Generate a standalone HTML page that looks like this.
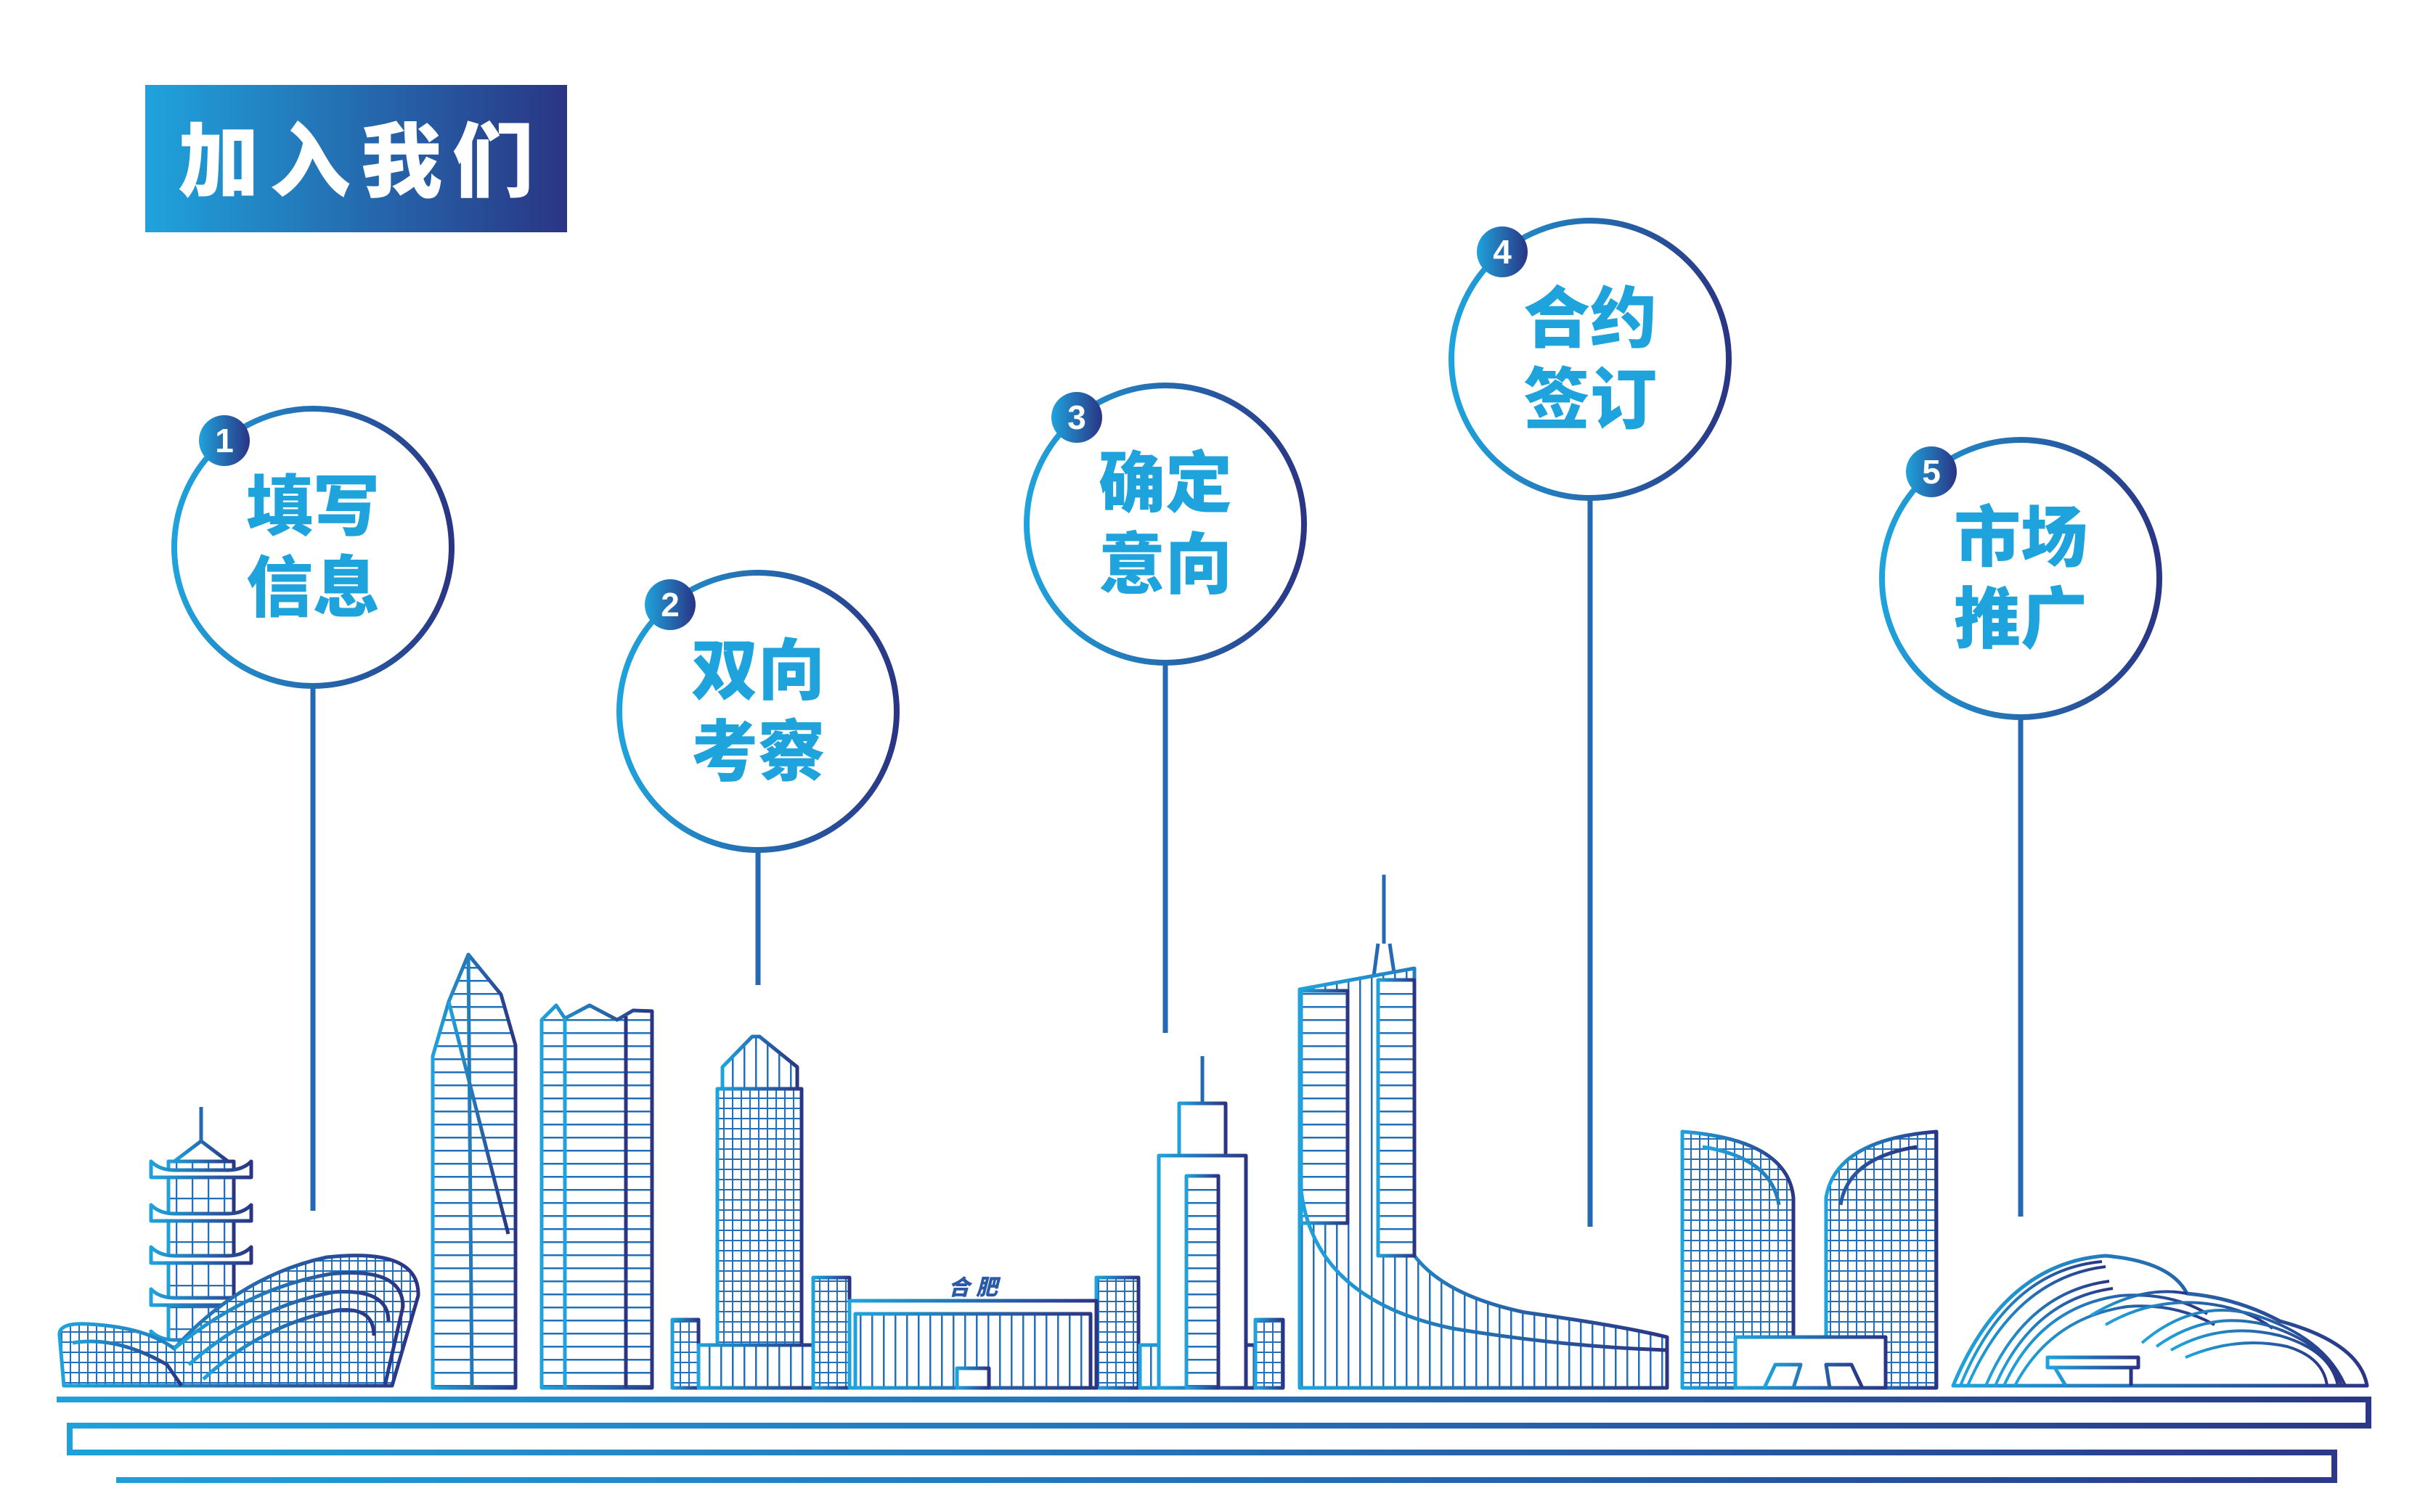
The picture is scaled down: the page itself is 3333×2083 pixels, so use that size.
<!DOCTYPE html>
<html><head><meta charset="utf-8">
<style>
html,body{margin:0;padding:0;background:#fff;}
body{width:3333px;height:2083px;overflow:hidden;position:relative;}
svg{position:absolute;left:0;top:0;}
</style></head>
<body>
<svg width="3333" height="2083" viewBox="0 0 3333 2083" xmlns="http://www.w3.org/2000/svg">
<defs>
  <linearGradient id="g" x1="0" y1="0" x2="1" y2="0">
    <stop offset="0" stop-color="#1fa3dc"/><stop offset="1" stop-color="#2a3584"/>
  </linearGradient>
  <linearGradient id="gw" gradientUnits="userSpaceOnUse" x1="0" y1="0" x2="3333" y2="0">
    <stop offset="0" stop-color="#1fa3dc"/><stop offset="0.5" stop-color="#2470b8"/><stop offset="1" stop-color="#2a3584"/>
  </linearGradient>
  <pattern id="hl" width="20" height="18" patternUnits="userSpaceOnUse">
    <rect width="20" height="18" fill="#fff"/><line x1="0" y1="1" x2="20" y2="1" stroke="#2470b8" stroke-width="3"/>
  </pattern>
  <pattern id="grid" width="12" height="14" patternUnits="userSpaceOnUse">
    <rect width="12" height="14" fill="#fff"/><path d="M0 1H12M1 0V14" stroke="#2470b8" stroke-width="2"/>
  </pattern>
  <pattern id="vl" width="16" height="20" patternUnits="userSpaceOnUse">
    <rect width="16" height="20" fill="#fff"/><line x1="1" y1="0" x2="1" y2="20" stroke="#2470b8" stroke-width="3"/>
  </pattern>
  <pattern id="vl2" width="22" height="30" patternUnits="userSpaceOnUse">
    <rect width="22" height="30" fill="#fff"/><path d="M1 0V30M0 1H22" stroke="#2470b8" stroke-width="2.5"/>
  </pattern>
</defs>

<rect x="200" y="117" width="581" height="203" fill="url(#g)"/>
<text x="245" y="262" font-family="'Liberation Sans','Noto Sans CJK SC',sans-serif" font-weight="900" font-size="112" letter-spacing="14" fill="#fff">加入我们</text>

<g stroke="#2568b3" stroke-width="7">
  <line x1="431" y1="945" x2="431" y2="1668"/>
  <line x1="1044" y1="1172" x2="1044" y2="1357"/>
  <line x1="1605" y1="914" x2="1605" y2="1423"/>
  <line x1="2190" y1="688" x2="2190" y2="1690"/>
  <line x1="2783" y1="990" x2="2783" y2="1676"/>
</g>

<g fill="#fff" stroke="url(#g)" stroke-width="8">
  <circle cx="431" cy="754" r="191"/>
  <circle cx="1044" cy="980" r="191"/>
  <circle cx="1605" cy="722" r="191"/>
  <circle cx="2190" cy="495" r="191"/>
  <circle cx="2783" cy="797" r="191"/>
</g>
<g fill="url(#g)">
  <circle cx="309" cy="607" r="35"/>
  <circle cx="923" cy="833" r="35"/>
  <circle cx="1483" cy="575" r="35"/>
  <circle cx="2069" cy="347" r="35"/>
  <circle cx="2660" cy="650" r="35"/>
</g>
<g font-family="'Liberation Sans','Noto Sans CJK SC',sans-serif" font-weight="900" font-size="46" fill="#fff" text-anchor="middle">
  <text x="309" y="623">1</text><text x="923" y="849">2</text><text x="1483" y="591">3</text><text x="2069" y="363">4</text><text x="2660" y="666">5</text>
</g>
<g font-family="'Liberation Sans','Noto Sans CJK SC',sans-serif" font-weight="900" font-size="92" fill="#1fa3dc" text-anchor="middle">
  <text x="431" y="730">填写</text><text x="431" y="842">信息</text>
  <text x="1044" y="956">双向</text><text x="1044" y="1068">考察</text>
  <text x="1605" y="698">确定</text><text x="1605" y="810">意向</text>
  <text x="2190" y="471">合约</text><text x="2190" y="583">签订</text>
  <text x="2783" y="773">市场</text><text x="2783" y="885">推广</text>
</g>

<g stroke="url(#g)" stroke-width="5" stroke-linejoin="round">
  <line x1="277" y1="1525" x2="277" y2="1578" stroke="#2568b3"/>
  <path d="M240 1600 L277 1572 L314 1600 Z" fill="#fff"/>
  <rect x="232" y="1600" width="90" height="260" fill="url(#vl2)"/>
  <g fill="#fff">
    <path d="M208 1600 Q220 1612 240 1612 H314 Q334 1612 346 1600 V1622 H208 Z"/>
    <path d="M208 1660 Q220 1672 240 1672 H314 Q334 1672 346 1660 V1682 H208 Z"/>
    <path d="M208 1718 Q220 1730 240 1730 H314 Q334 1730 346 1718 V1740 H208 Z"/>
    <path d="M208 1776 Q220 1788 240 1788 H314 Q334 1788 346 1776 V1798 H208 Z"/>
    <path d="M208 1834 Q220 1846 240 1846 H314 Q334 1846 346 1834 V1856 H208 Z"/>
  </g>
  <path d="M88 1909 L82 1840 Q80 1822 120 1824 Q200 1828 240 1858 Q330 1758 450 1732 Q578 1718 576 1785 L540 1909 Z" fill="url(#grid)"/>
  <path d="M240 1858 Q340 1775 455 1755 Q555 1745 555 1800 L530 1909" fill="none"/>
  <path d="M260 1880 Q350 1800 460 1780 Q535 1775 535 1820" fill="none"/>
  <path d="M280 1900 Q360 1825 465 1805 Q515 1800 515 1840" fill="none"/>
  <path d="M100 1850 Q160 1840 230 1880 L250 1909" fill="none"/>
  <path d="M596 1912 V1455 L618 1380 L645 1315 L690 1370 L710 1440 V1912 Z" fill="url(#hl)"/>
  <path d="M645 1315 L650 1912 M618 1380 L700 1700" fill="none"/>
  <path d="M746 1912 V1405 L766 1385 L778 1403 L812 1385 L850 1405 L872 1392 L898 1393 V1912 Z" fill="url(#hl)"/>
  <path d="M778 1403 V1912 M862 1400 V1912" fill="none"/>
  <path d="M995 1470 L1036 1428 L1046 1428 L1098 1470 V1500 H995 Z" fill="url(#vl)"/>
  <rect x="988" y="1500" width="116" height="412" fill="url(#grid)"/>
  <line x1="1046" y1="1500" x2="1046" y2="1912"/>
  <rect x="926" y="1818" width="36" height="94" fill="url(#grid)"/>
  <rect x="962" y="1853" width="158" height="59" fill="url(#vl)"/>
  <rect x="1120" y="1760" width="50" height="152" fill="url(#grid)"/>
  <rect x="1510" y="1760" width="58" height="152" fill="url(#grid)"/>
  <rect x="1170" y="1792" width="340" height="120" fill="#fff"/>
  <rect x="1178" y="1810" width="324" height="102" fill="url(#vl)"/>
  <rect x="1318" y="1885" width="44" height="27" fill="#fff"/>
  <rect x="1570" y="1853" width="158" height="59" fill="url(#vl)"/>
  <line x1="1656" y1="1455" x2="1656" y2="1520" stroke="#2568b3"/>
  <rect x="1624" y="1520" width="64" height="72" fill="#fff"/>
  <rect x="1596" y="1592" width="120" height="320" fill="#fff"/>
  <rect x="1634" y="1620" width="44" height="292" fill="url(#hl)"/>
  <rect x="1729" y="1818" width="38" height="94" fill="url(#grid)"/>
  <path d="M1906 1205 V1300 M1898 1300 L1892 1345 M1914 1300 L1920 1340" fill="none" stroke="#2568b3"/>
  <path d="M1790 1912 V1363 L1948 1334 V1730 Q1990 1785 2100 1808 Q2230 1826 2296 1842 V1912 Z" fill="url(#vl)"/>
  <rect x="1792" y="1365" width="64" height="320" fill="url(#hl)"/>
  <rect x="1898" y="1350" width="50" height="380" fill="url(#hl)"/>
  <path d="M1792 1640 Q1810 1790 2000 1830 Q2150 1855 2296 1860" fill="none"/>
  <path d="M2317 1912 V1559 Q2462 1570 2470 1650 V1912 Z" fill="url(#grid)"/>
  <path d="M2515 1912 V1650 Q2528 1570 2667 1559 V1912 Z" fill="url(#grid)"/>
  <path d="M2345 1580 Q2440 1595 2450 1660 M2640 1580 Q2545 1595 2535 1660" fill="none"/>
  <rect x="2390" y="1842" width="207" height="70" fill="#fff"/>
  <path d="M2430 1912 L2445 1880 H2480 L2470 1912 M2520 1912 L2515 1880 H2550 L2565 1912" fill="none"/>
  <path d="M2690 1909 Q2760 1740 2900 1730 Q2990 1738 3012 1782 Q3080 1788 3140 1820 Q3250 1850 3260 1909 Z" fill="#fff"/>
  <g fill="none" stroke-width="4">
    <path d="M2700 1909 Q2765 1750 2895 1738"/>
    <path d="M2710 1909 Q2775 1760 2900 1745"/><path d="M2735 1909 Q2790 1780 2905 1765"/>
    <path d="M2748 1909 Q2800 1790 2910 1775"/>
    <path d="M2760 1909 Q2810 1800 2920 1785 Q2990 1780 3040 1810"/>
    <path d="M2775 1909 Q2825 1815 2930 1800 Q2995 1795 3050 1825"/>
    <path d="M2880 1812 Q2950 1770 3012 1782"/>
    <path d="M2900 1825 Q2960 1790 3030 1795 Q3090 1800 3130 1830"/>
    <path d="M2950 1850 Q3020 1790 3100 1810 Q3200 1840 3230 1909"/>
    <path d="M2970 1855 Q3040 1805 3120 1825 Q3205 1850 3225 1909"/>
    <path d="M2990 1860 Q3060 1820 3140 1840 Q3210 1860 3220 1909"/>
    <path d="M3010 1870 Q3080 1840 3150 1855 Q3200 1870 3205 1909"/>
  </g>
  <rect x="2820" y="1870" width="125" height="14" fill="#fff"/>
  <path d="M2830 1884 L2845 1909 M2935 1884 V1909" fill="none"/>
</g>
<text x="1340" y="1784" font-family="'Liberation Sans','Noto Sans CJK SC',sans-serif" font-weight="900" font-size="30" fill="#2a5aa8" text-anchor="middle" font-style="italic">合 肥</text>

<path d="M78 1928 H3262 V1964 H96 V2001 H3215 V2039 H160" fill="none" stroke="url(#gw)" stroke-width="8"/>
</svg>
</body></html>
